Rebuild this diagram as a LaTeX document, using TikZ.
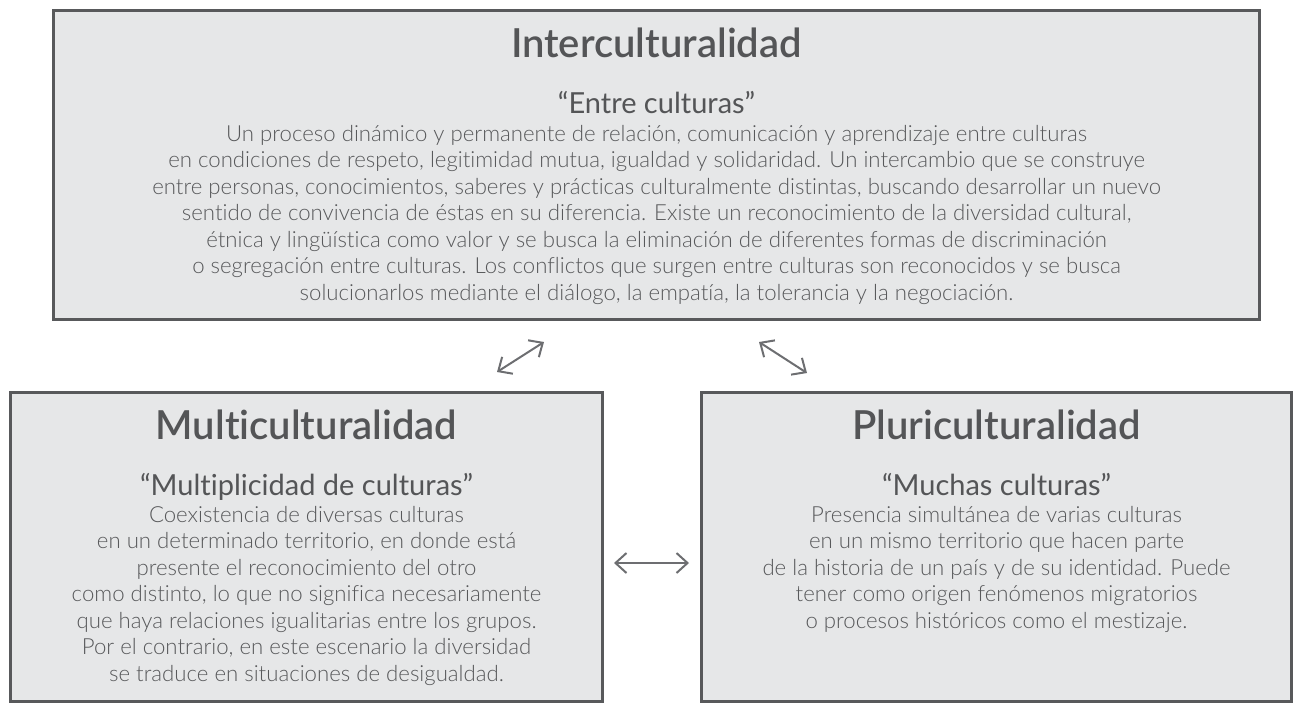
\documentclass[tikz,border=0pt]{standalone}
\usepackage{fontspec}
\setmainfont{Lato}[Ligatures=NoCommon]
\newfontfamily\lightfont{Lato Light}[Ligatures=NoCommon]
\newfontfamily\regfont{Lato}[Ligatures=NoCommon]
\newfontfamily\headfont{Lato Semibold}[Ligatures=NoCommon]
\usetikzlibrary{arrows.meta}
\definecolor{boxfill}{HTML}{E6E7E8}
\definecolor{boxline}{HTML}{58595B}
\definecolor{titlecol}{HTML}{545557}
\definecolor{textcol}{HTML}{58595B}
\definecolor{arrowcol}{HTML}{6D6E71}
\tikzset{
  panel/.style={draw=boxline, fill=boxfill, line width=3pt, inner sep=0pt},
  headtext/.style={anchor=base, inner sep=0pt, text=titlecol, font=\headfont\fontsize{40}{46}\selectfont},
  subtext/.style={anchor=base, inner sep=0pt, text=titlecol, font=\regfont\fontsize{29}{34}\selectfont},
  bodytext/.style={anchor=base, inner sep=0pt, text=textcol},
  link/.style={draw=arrowcol, line width=2pt, {Straight Barb[length=11pt,width=20pt]}-{Straight Barb[length=11pt,width=20pt]}}
}
\newcommand{\bodybox}[2]{\parbox[t]{#1}{\centering\lightfont\fontsize{22.2}{26.5}\selectfont #2}}
\begin{document}
\begin{tikzpicture}[x=1pt,y=-1pt]
\useasboundingbox (0,0) rectangle (1293,705);
% boxes
\node[panel, minimum width=1206pt, minimum height=309pt] (inter) at (656.5,165) {};
\node[panel, minimum width=592pt, minimum height=309pt] (multi) at (306.5,547.25) {};
\node[panel, minimum width=590pt, minimum height=309pt] (pluri) at (996.5,547.25) {};
% top box texts
\node[headtext] (intertitle) at (656.5,57) {Interculturalidad};
\node[subtext] (intersub) at (656.5,113) {“Entre culturas”};
\node[bodytext] (interbody) at (656.5,141) {\bodybox{1200pt}{Un proceso dinámico y permanente de relación, comunicación y aprendizaje entre culturas\\
en condiciones de respeto, legitimidad mutua, igualdad y solidaridad. Un intercambio que se construye\\
entre personas, conocimientos, saberes y prácticas culturalmente distintas, buscando desarrollar un nuevo\\
sentido de convivencia de éstas en su diferencia. Existe un reconocimiento de la diversidad cultural,\\
étnica y lingüística como valor y se busca la eliminación de diferentes formas de discriminación\\
o segregación entre culturas. Los conflictos que surgen entre culturas son reconocidos y se busca\\
solucionarlos mediante el diálogo, la empatía, la tolerancia y la negociación.}};
% left box texts
\node[headtext] (multititle) at (306.5,439) {Multiculturalidad};
\node[subtext] (multisub) at (306.5,495) {“Multiplicidad de culturas”};
\node[bodytext] (multibody) at (306.5,522) {\bodybox{580pt}{Coexistencia de diversas culturas\\
en un determinado territorio, en donde está\\
presente el reconocimiento del otro\\
como distinto, lo que no significa necesariamente\\
que haya relaciones igualitarias entre los grupos.\\
Por el contrario, en este escenario la diversidad\\
se traduce en situaciones de desigualdad.}};
% right box texts
\node[headtext] (pluritle) at (996.5,439) {Pluriculturalidad};
\node[subtext] (plurisub) at (996.5,495) {“Muchas culturas”};
\node[bodytext] (pluribody) at (996.5,522) {\bodybox{580pt}{Presencia simultánea de varias culturas\\
en un mismo territorio que hacen parte\\
de la historia de un país y de su identidad. Puede\\
tener como origen fenómenos migratorios\\
o procesos históricos como el mestizaje.}};
% connectors
\coordinate (a1s) at (497,372);
\coordinate (a1e) at (544,342);
\coordinate (a2s) at (759,342);
\coordinate (a2e) at (807,373);
\coordinate (a3s) at (614,563);
\coordinate (a3e) at (689,563);
\draw[link] (a1s) -- (a1e);
\draw[link] (a2s) -- (a2e);
\draw[link] (a3s) -- (a3e);
\end{tikzpicture}
\end{document}
